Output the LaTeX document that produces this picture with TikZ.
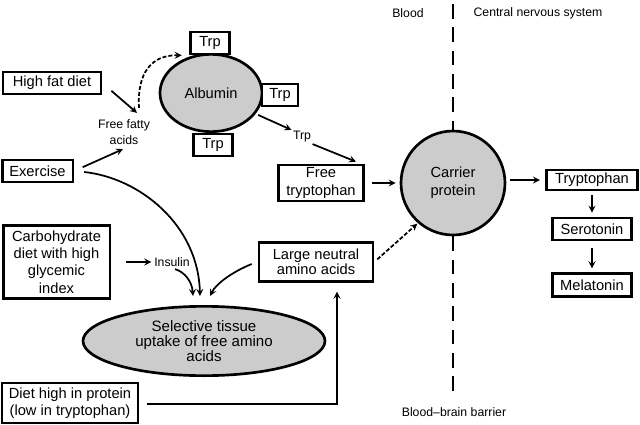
\documentclass[tikz,border=0pt]{standalone}
\usepackage{fontspec}
\setmainfont{Liberation Sans}
\usetikzlibrary{positioning, arrows, calc, shapes.geometric}
\tikzset{
	>=stealth,
	x=0.75pt, y=-0.75pt,
	every node/.style={font=\fontsize{11}{13}\selectfont, align=center},
	box/.style={draw, line width=2pt, fill=white, inner sep=1pt},
	blob/.style={draw, line width=2pt, fill=gray!40, inner sep=0pt},
	small/.style={font=\fontsize{9.2}{12}\selectfont, inner sep=1pt},
	flow/.style={->, line width=1.3pt},
	maybe/.style={->, line width=1.3pt, dash pattern=on 3pt off 1.5pt},
	barrier/.style={line width=2.2pt, dash pattern=on 11pt off 6.5pt},
}

\begin{document}
\begin{tikzpicture}
	\useasboundingbox (0,0) rectangle (640,425);
	% blood side
	\node[box, minimum width=73.5pt, minimum height=16.5pt] (FAT) at (52,83) {High fat diet};
	\node[box, minimum width=53pt, minimum height=16.5pt] (EXER) at (37.5,171) {Exercise};
	\node[box, minimum width=80pt, minimum height=55pt] (CARB) at (56.5,262) {Carbohydrate\\diet with high\\glycemic\\index};
	\node[box, minimum width=102pt, minimum height=30pt] (PROT) at (70,403) {Diet high in protein\\(low in tryptophan)};
	\node[small] (FFA) at (124,132) {Free fatty\\acids};
	\node[small] (INS) at (172,262) {Insulin};
	\node[blob, ellipse, minimum width=76.5pt, minimum height=58pt] (ALB) at (211,93) {Albumin};
	\node[box, minimum width=29pt, minimum height=16.5pt] (TRPA) at (210,43) {Trp};
	\node[box, minimum width=27pt, minimum height=16.5pt] (TRPB) at (280,95) {Trp};
	\node[box, minimum width=29pt, minimum height=16.5pt] (TRPC) at (213,145) {Trp};
	\node[small] (TRPL) at (302,137) {Trp};
	\node[box, minimum width=64pt, minimum height=27pt] (FTRP) at (321,183) {Free\\tryptophan};
	\node[box, minimum width=85.5pt, minimum height=29pt, font=\fontsize{11}{11.5}\selectfont] (LNAA) at (316,262) {Large neutral\\amino acids};
	\node[blob, ellipse, minimum width=181.5pt, minimum height=52pt, font=\fontsize{11.3}{11}\selectfont] (SEL) at (204,341) {Selective tissue\\uptake of free amino\\acids};
	% barrier
	\node[blob, circle, minimum size=78pt, font=\fontsize{11}{13.5}\selectfont] (CAR) at (453,183) {Carrier\\protein};
	\coordinate (BBTOP) at (453,4);
	\coordinate (BBBOT) at (453,391);
	\node[small] (BLOOD) at (408,13) {Blood};
	\node[small] (CNS) at (538,13) {Central nervous system};
	\node[small] (BBB) at (454,412) {Blood--brain barrier};
	% brain side
	\node[box, minimum width=68pt, minimum height=15pt] (TRYP) at (592,180) {Tryptophan};
	\node[box, minimum width=59pt, minimum height=16.5pt] (SERO) at (592,229) {Serotonin};
	\node[box, minimum width=59pt, minimum height=17pt] (MELA) at (592,285) {Melatonin};

	\draw[barrier] (BBTOP) -- (CAR.north);
	\draw[barrier] (CAR.south) -- (BBBOT);

	\draw[flow, shorten <=9pt] (FAT.east) -- ($(FFA.north)+(13,-5)$);
	\draw[flow, shorten <=7pt] (EXER.east) -- ($(FFA.south)+(-1,3)$);
	\draw[flow] ($(EXER.east)+(10,1)$) .. controls (140,178) and (198,225) .. ($(SEL.north)+(-4,-9)$);
	\draw[maybe] ($(FFA.north)+(15,-10)$) .. controls (137,72) and (152,55) .. ($(ALB.130)+(-1,-4)$);
	\draw[flow, shorten <=2pt] (ALB.-25) -- (TRPL.north west);
	\draw[flow] (TRPL.south east) -- ($(FTRP.north east)+(-9,-2)$);
	\draw[flow, shorten <=5pt, shorten >=3pt] (FTRP.east) -- (CAR.west);
	\draw[flow, shorten <=3pt, shorten >=4pt] (CAR.east |- TRYP.west) -- (TRYP.west);
	\draw[flow, shorten <=3pt, shorten >=3pt] (TRYP.south) -- (SERO.north);
	\draw[flow, shorten <=5pt, shorten >=3pt] (SERO.south) -- (MELA.north);
	\draw[flow, shorten <=11pt, shorten >=1pt] (CARB.east) -- (INS.west);
	\draw[flow] ($(INS.south)+(3,1)$) .. controls (185,272) and (192,282) .. ($(SEL.north)+(-11,-9)$);
	\draw[flow] ($(LNAA.west)+(-6,2)$) .. controls (232,272) and (216,284) .. ($(SEL.north)+(6,-9)$);
	\draw[maybe, shorten <=3pt] (LNAA.east) -- ($(CAR.south west)+(2,3)$);
	\draw[flow] ($(PROT.east)+(8,1)$) -| ($(LNAA.south)+(21,9)$);
\end{tikzpicture}
\end{document}
